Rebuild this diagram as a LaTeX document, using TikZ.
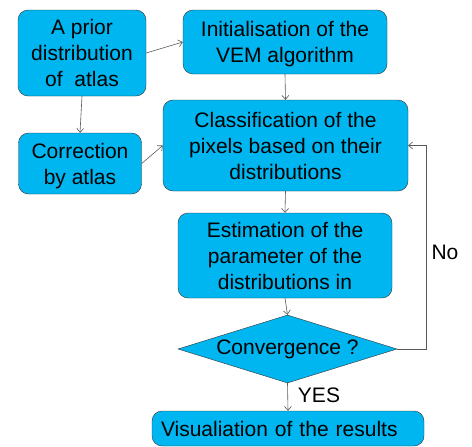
\documentclass[tikz,border=0pt]{standalone}
\usepackage{fontspec}
\setmainfont{Liberation Sans}
\usetikzlibrary{shapes.geometric}
\usetikzlibrary{arrows.meta}
\definecolor{boxblue}{RGB}{0,182,240}
\tikzset{box/.style={draw=black!80, fill=boxblue, rounded corners=10pt, align=center,
    inner sep=2pt, text depth=0pt, font=\fontsize{21}{26}\selectfont}}
\tikzset{decision/.style={diamond, draw=black!80, fill=boxblue, inner sep=0pt,
    shape aspect=3.2, font=\fontsize{21}{26}\selectfont}}
\tikzset{link/.style={-{Straight Barb[length=4pt, width=7pt]}, draw=black!65, line width=0.6pt}}

\begin{document}
\begin{tikzpicture}[x=1pt, y=-1pt]
  \useasboundingbox (0, 0) rectangle (472, 447);

  \node[box, minimum width=128pt, minimum height=86pt] (prior) at (82, 53) {A prior\\distribution\\of~~atlas};
  \node[box, minimum width=204pt, minimum height=64pt] (init) at (285, 42) {Initialisation of the\\VEM algorithm};
  \node[box, minimum width=123pt, minimum height=61pt] (corr) at (80, 163.5) {Correction\\by atlas};
  \node[box, minimum width=245pt, minimum height=91pt] (classif) at (285.5, 145.5) {Classification of the\\pixels based on their\\distributions};
  \node[box, minimum width=214pt, minimum height=85pt] (estim) at (285, 255.5) {Estimation of the\\parameter of the\\distributions in};
  \node[decision, minimum width=219pt, minimum height=68pt] (conv) at (287.5, 349) {Convergence ?};
  \node[box, minimum width=272pt, minimum height=35pt, text width=254pt, align=left] (visu) at (288, 428.5) {Visualiation of the results};

  \draw[link] (prior.east) -- (init.west);
  \draw[link] (prior.south) -- (corr.north);
  \draw[link] (corr.east) -- (classif.west);
  \draw[link] (init.south) -- (classif.north);
  \draw[link] (classif.south) -- (estim.north);
  \draw[link] (estim.south) -- (conv.north);
  \draw[link] (conv.south) -- (visu.north);

  \coordinate (back) at (426, 349);
  \draw[link] (conv.east) -- (back) |- (classif.east);
  \node[font=\fontsize{21}{26}\selectfont] (no) at (445, 252) {No};
  \node[font=\fontsize{21}{26}\selectfont] (yes) at (319, 395) {YES};
\end{tikzpicture}
\end{document}
